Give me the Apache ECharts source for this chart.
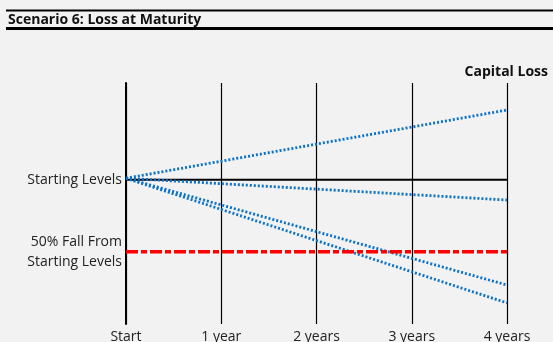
<!DOCTYPE html>
<html>
<head>
<meta charset="utf-8">
<script src="https://cdn.jsdelivr.net/npm/echarts@6/dist/echarts.min.js"></script>
<style>
html,body{margin:0;padding:0;background:#f2f2f2;}
#chart{width:553px;height:342px;}
</style>
</head>
<body>
<div id="chart"></div>
<script>
var categories = ['Start', '1 year', '2 years', '3 years', '4 years'];
var startLevel = [100, 100, 100, 100, 100];
var fallLevel = [50, 50, 50, 50, 50];
var path1 = [101, null, null, null, 148.3];
var path2 = [101, null, null, null, 85.9];
var path3 = [101, null, null, null, 27.0];
var path4 = [101, null, null, null, 14.6];
var yLabels = {50: '50% Fall From\nStarting Levels', 100: 'Starting Levels'};

var FONT = '"Open Sans", "Noto Sans", sans-serif';
var chart = echarts.init(document.getElementById('chart'), null, {renderer: 'canvas'});

function blue(data) {
  return {
    type: 'line', data: data, connectNulls: true, symbol: 'none', silent: true,
    lineStyle: {color: '#0a72c8', width: 2.8, type: [2, 2]}, z: 3
  };
}

chart.setOption({
  backgroundColor: '#f2f2f2',
  animation: false,
  grid: {left: 126, right: 46, top: 83, bottom: 18, containLabel: false, outerBoundsMode: 'none'},
  xAxis: {
    type: 'category', data: categories, boundaryGap: false,
    axisLine: {show: false}, axisTick: {show: false},
    axisLabel: {color: '#222', fontFamily: FONT, fontSize: 14, margin: 6, interval: 0},
    splitLine: {show: true, interval: 0, lineStyle: {color: '#000', width: 1.2}}
  },
  yAxis: {
    type: 'value', min: 0, max: 167, interval: 50,
    axisLine: {show: true, lineStyle: {color: '#000', width: 2}},
    axisTick: {show: false}, splitLine: {show: false},
    axisLabel: {
      color: '#222', fontFamily: FONT, fontSize: 14, margin: 4, lineHeight: 20,
      formatter: function (v) { return yLabels[v] || ''; }
    }
  },
  graphic: [
    {type: 'line', shape: {x1: 6, y1: 10.5, x2: 553, y2: 10.5}, style: {stroke: '#000', lineWidth: 2}},
    {type: 'line', shape: {x1: 6, y1: 28.5, x2: 553, y2: 28.5}, style: {stroke: '#000', lineWidth: 3}},
    {type: 'text', x: 8, y: 20.5, style: {text: 'Scenario 6: Loss at Maturity', font: 'bold 14px ' + FONT, fill: '#111', verticalAlign: 'middle'}},
    {type: 'text', x: 548, y: 72, style: {text: 'Capital Loss', font: 'bold 14px ' + FONT, fill: '#111', align: 'right', verticalAlign: 'middle'}}
  ],
  series: [
    {type: 'line', data: startLevel, symbol: 'none', silent: true, lineStyle: {color: '#000', width: 2}, z: 2},
    blue(path1), blue(path2), blue(path3), blue(path4),
    {type: 'line', data: fallLevel, symbol: 'none', silent: true, lineStyle: {color: '#ff0000', width: 3.5, type: [12, 3, 6, 3]}, z: 4}
  ]
});
</script>
</body>
</html>
